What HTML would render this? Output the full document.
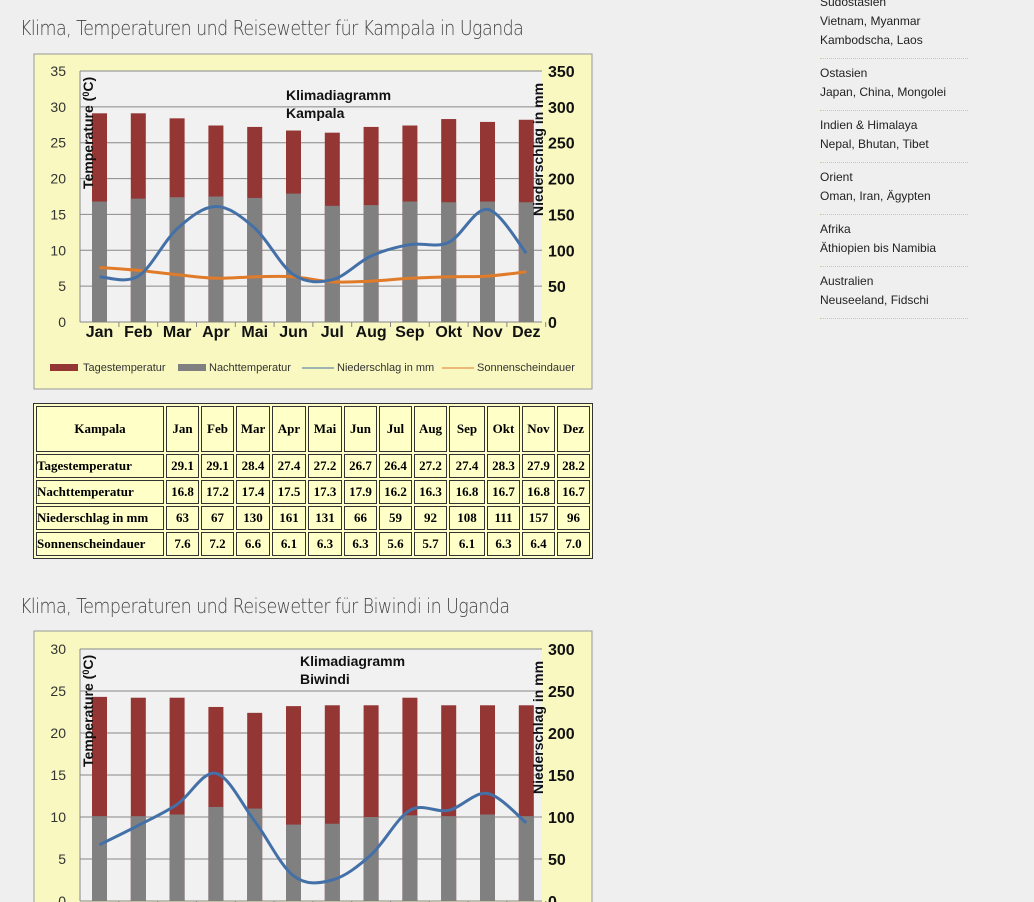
<!DOCTYPE html>
<html><head><meta charset="utf-8">
<style>
body{margin:0;width:1034px;height:902px;overflow:hidden;background:#efefef;font-family:"Liberation Sans",sans-serif;position:relative}
h2{position:absolute;left:20px;margin:0;font-weight:normal;font-size:20px;color:#444;font-family:"DejaVu Sans","Liberation Sans",sans-serif;font-weight:200;letter-spacing:-0.6px;transform:scaleX(0.87);transform-origin:left}
.side{position:absolute;left:820px;top:-12px;width:148px;font-size:12px;color:#222;line-height:19px}
.side div{border-bottom:1px dotted #d8c890;padding:5px 0 8px}
table{position:absolute;left:33px;top:403px;border:1px solid #333;border-spacing:2px;background:#ffffc8;font-family:"Liberation Serif",serif;font-weight:bold;font-size:13px}
td{border:1px solid #333;text-align:center;padding:0;height:22px;background:#ffffc8}
td.l{text-align:left}
tr.h td{height:44px}
svg{position:absolute;left:0;top:0}
</style></head><body>
<h2 style="top:16px">Klima, Temperaturen und Reisewetter für Kampala in Uganda</h2>
<h2 style="top:594px">Klima, Temperaturen und Reisewetter für Biwindi in Uganda</h2>
<div class="side">
<div>Südostasien<br>Vietnam, Myanmar<br>Kambodscha, Laos</div>
<div>Ostasien<br>Japan, China, Mongolei</div>
<div>Indien &amp; Himalaya<br>Nepal, Bhutan, Tibet</div>
<div>Orient<br>Oman, Iran, Ägypten</div>
<div>Afrika<br>Äthiopien bis Namibia</div>
<div>Australien<br>Neuseeland, Fidschi</div>
</div>
<svg id="s" width="1034" height="902" xmlns="http://www.w3.org/2000/svg"></svg>
<table>
<tr class="h"><td style="width:126px">Kampala</td><td style="width:31px">Jan</td><td style="width:31px">Feb</td><td style="width:32px">Mar</td><td style="width:32px">Apr</td><td style="width:32px">Mai</td><td style="width:31px">Jun</td><td style="width:31px">Jul</td><td style="width:31px">Aug</td><td style="width:34px">Sep</td><td style="width:31px">Okt</td><td style="width:31px">Nov</td><td style="width:31px">Dez</td></tr>
<tr><td class="l">Tagestemperatur</td><td>29.1</td><td>29.1</td><td>28.4</td><td>27.4</td><td>27.2</td><td>26.7</td><td>26.4</td><td>27.2</td><td>27.4</td><td>28.3</td><td>27.9</td><td>28.2</td></tr>
<tr><td class="l">Nachttemperatur</td><td>16.8</td><td>17.2</td><td>17.4</td><td>17.5</td><td>17.3</td><td>17.9</td><td>16.2</td><td>16.3</td><td>16.8</td><td>16.7</td><td>16.8</td><td>16.7</td></tr>
<tr><td class="l">Niederschlag in mm</td><td>63</td><td>67</td><td>130</td><td>161</td><td>131</td><td>66</td><td>59</td><td>92</td><td>108</td><td>111</td><td>157</td><td>96</td></tr>
<tr><td class="l">Sonnenscheindauer</td><td>7.6</td><td>7.2</td><td>6.6</td><td>6.1</td><td>6.3</td><td>6.3</td><td>5.6</td><td>5.7</td><td>6.1</td><td>6.3</td><td>6.4</td><td>7.0</td></tr>
</table>
<script>
var s=document.getElementById('s'),o='';
var M=['Jan','Feb','Mar','Apr','Mai','Jun','Jul','Aug','Sep','Okt','Nov','Dez'];
function curve(pts){var d='M'+pts[0][0]+','+pts[0][1];for(var i=0;i<pts.length-1;i++){var p0=pts[i-1]||pts[i],p1=pts[i],p2=pts[i+1],p3=pts[i+2]||p2;d+=' C'+(p1[0]+(p2[0]-p0[0])/6)+','+(p1[1]+(p2[1]-p0[1])/6)+' '+(p2[0]-(p3[0]-p1[0])/6)+','+(p2[1]-(p3[1]-p1[1])/6)+' '+p2[0]+','+p2[1];}return d;}
function chart(c){
 var y0=c.y0,top=c.top,max=c.max,sc=(y0-top)/max,X0=80,X1=542;
 o+='<rect x="34" y="'+c.by+'" width="558" height="'+c.bh+'" fill="#f8f8c0" stroke="#999"/>';
 o+='<rect x="'+X0+'" y="'+top+'" width="'+(X1-X0)+'" height="'+(y0-top)+'" fill="#f1f1f1"/>';
 for(var v=0;v<=max;v+=5){var y=y0-v*sc;o+='<line x1="'+X0+'" x2="'+X1+'" y1="'+y+'" y2="'+y+'" stroke="#888" stroke-width="1"/>';
  o+='<text x="66" y="'+(y+5)+'" font-size="14" text-anchor="end" fill="#333">'+v+'</text>';
  o+='<text x="548" y="'+(y+6)+'" font-size="16" font-weight="bold" fill="#111">'+(v*10)+'</text>';}
 o+='<line x1="'+X0+'" x2="'+X0+'" y1="'+top+'" y2="'+y0+'" stroke="#888"/>';
 var pl=[],ps=[];
 for(var i=0;i<12;i++){var cx=99.5+i*38.8;
  o+='<rect x="'+(cx-7.5)+'" y="'+(y0-c.t[i]*sc)+'" width="15" height="'+(c.t[i]*sc)+'" fill="#943634"/>';
  o+='<rect x="'+(cx-7.5)+'" y="'+(y0-c.n[i]*sc)+'" width="15" height="'+(c.n[i]*sc)+'" fill="#808080"/>';
  o+='<line x1="'+(cx+19.4)+'" x2="'+(cx+19.4)+'" y1="'+y0+'" y2="'+(y0+5)+'" stroke="#888"/>';
  o+='<text x="'+cx+'" y="'+(y0+15)+'" font-size="16" font-weight="bold" text-anchor="middle" fill="#111">'+M[i]+'</text>';
  pl.push([cx,y0-c.p[i]/10*sc]);if(c.s)ps.push([cx,y0-c.s[i]*sc]);}
 if(c.s)o+='<path d="'+curve(ps)+'" fill="none" stroke="#e07b2a" stroke-width="3"/>';
 o+='<path d="'+curve(pl)+'" fill="none" stroke="#4470a8" stroke-width="3"/>';
 o+='<text x="'+c.tx+'" y="'+(top+c.ty)+'" font-size="14" font-weight="bold" fill="#111">Klimadiagramm</text><text x="'+c.tx+'" y="'+(top+c.ty+18)+'" font-size="14" font-weight="bold" fill="#111">'+c.name+'</text>';
 o+='<text transform="translate(93,'+(top+118)+') rotate(-90)" font-size="14" font-weight="bold" fill="#111">Temperature (<tspan font-size="9" dy="-4">0</tspan><tspan dy="4">C)</tspan></text>';
 o+='<text transform="translate(543,'+(top+145)+') rotate(-90)" font-size="14" font-weight="bold" fill="#111">Niederschlag in mm</text>';
}
chart({by:54,bh:335,y0:322,top:71,max:35,tx:286,ty:29,name:'Kampala',
 t:[29.1,29.1,28.4,27.4,27.2,26.7,26.4,27.2,27.4,28.3,27.9,28.2],
 n:[16.8,17.2,17.4,17.5,17.3,17.9,16.2,16.3,16.8,16.7,16.8,16.7],
 p:[63,64,130,161,131,66,59,92,108,111,157,96],
 s:[7.6,7.2,6.6,6.1,6.3,6.3,5.6,5.7,6.1,6.3,6.4,7.0]});
o+='<rect x="50" y="364" width="28" height="7" fill="#943634"/><text x="83" y="371" font-size="11" fill="#333">Tagestemperatur</text>';
o+='<rect x="178" y="364" width="28" height="7" fill="#808080"/><text x="209" y="371" font-size="11" fill="#333">Nachttemperatur</text>';
o+='<line x1="302" x2="334" y1="368" y2="368" stroke="#4470a8"/><text x="337" y="371" font-size="11" fill="#333">Niederschlag in mm</text>';
o+='<line x1="442" x2="474" y1="368" y2="368" stroke="#e07b2a"/><text x="477" y="371" font-size="11" fill="#333">Sonnenscheindauer</text>';
chart({by:631,bh:290,y0:901,top:649,max:30,tx:300,ty:17,name:'Biwindi',
 t:[24.3,24.2,24.2,23.1,22.4,23.2,23.3,23.3,24.2,23.3,23.3,23.3],
 n:[10.1,10.1,10.3,11.2,11,9.1,9.2,10,10.2,10.1,10.3,10.1],
 p:[67,90,115,152,95,30,25,55,108,108,128,93]});
s.innerHTML=o;
</script>
</body></html>
